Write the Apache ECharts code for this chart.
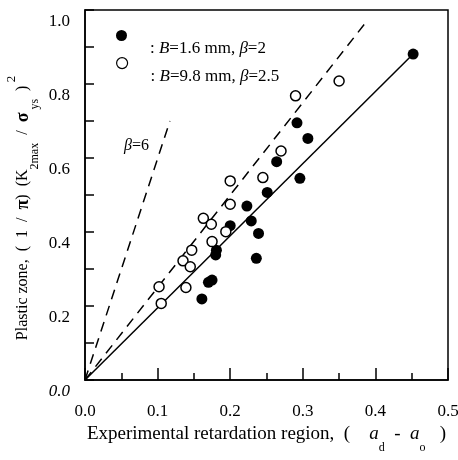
<!DOCTYPE html>
<html>
<head>
<meta charset="utf-8">
<script src="https://cdn.jsdelivr.net/npm/echarts@6/dist/echarts.min.js"></script>
<style>
html,body{margin:0;padding:0;background:#fff;}
#chart{width:458px;height:460px;}
</style>
</head>
<body>
<div id="chart"></div>
<script>
// ---- data ----
const filledName = 'B=1.6 mm, β=2';
const openName = 'B=9.8 mm, β=2.5';
const filledPoints = [
  [0.452, 0.881], [0.292, 0.695], [0.307, 0.653], [0.264, 0.590], [0.296, 0.545],
  [0.251, 0.507], [0.223, 0.470], [0.229, 0.430], [0.200, 0.417], [0.239, 0.396],
  [0.181, 0.351], [0.180, 0.338], [0.236, 0.329], [0.175, 0.270], [0.170, 0.264],
  [0.161, 0.219]
];
const openPoints = [
  [0.350, 0.808], [0.290, 0.768], [0.270, 0.619], [0.245, 0.547], [0.200, 0.538],
  [0.200, 0.475], [0.163, 0.437], [0.174, 0.421], [0.194, 0.401], [0.175, 0.374],
  [0.147, 0.351], [0.135, 0.322], [0.145, 0.306], [0.102, 0.252], [0.139, 0.250],
  [0.105, 0.207]
];
const fitSolid = [[0, 0], [0.452, 0.881]];      // fit line through filled data
const dashBeta25 = [[0, 0], [0.385, 0.962]];    // beta = 2.5 line
const dashBeta6 = [[0, 0], [0.117, 0.700]];     // beta = 6 line
const xTicks = { min: 0, max: 0.5, interval: 0.1 };
const yTicks = { min: 0, max: 1.0, interval: 0.2 };

const FONT = '"Liberation Serif", "DejaVu Serif", serif';

const chart = echarts.init(document.getElementById('chart'), null, { renderer: 'canvas' });

const legendRich = {
  t: { fontFamily: FONT, fontSize: 17, color: '#000' },
  i: { fontFamily: FONT, fontSize: 17, fontStyle: 'italic', color: '#000' }
};
function legendFmt(name) {
  if (name === filledName) return '{t|: }{i|B}{t|=1.6 mm, }{i|β}{t|=2}';
  return '{t|: }{i|B}{t|=9.8 mm, }{i|β}{t|=2.5}';
}
function makeLegend(name, top) {
  return {
    data: [name],
    left: 116,
    top: top,
    padding: 0,
    icon: 'circle',
    itemWidth: 11,
    itemHeight: 11,
    selectedMode: false,
    formatter: legendFmt,
    itemStyle: { borderWidth: 1.2 },
    textStyle: { padding: [26, 0, 0, 18], rich: legendRich, fontFamily: FONT, fontSize: 17 }
  };
}

const option = {
  backgroundColor: '#fff',
  animation: false,
  grid: {
    left: 85, right: 10, top: 10, bottom: 80,
    containLabel: false, outerBoundsMode: 'none',
    show: true, borderColor: '#000', borderWidth: 1.5, backgroundColor: 'transparent'
  },
  legend: [makeLegend(filledName, 30), makeLegend(openName, 57)],
  xAxis: {
    type: 'value',
    min: xTicks.min, max: xTicks.max, interval: xTicks.interval,
    axisLine: { show: true, lineStyle: { color: '#000', width: 1.5 } },
    axisTick: { show: true, inside: true, length: 12, lineStyle: { color: '#000', width: 1.5 } },
    minorTick: { show: true, splitNumber: 2, length: 7, lineStyle: { color: '#000', width: 1.5 } },
    splitLine: { show: false },
    axisLabel: {
      margin: 23, color: '#000', fontFamily: FONT, fontSize: 17,
      formatter: v => v.toFixed(1)
    },
    name: '{n|Experimental retardation region,  (    }{a|a}{s|d}{n|  -  }{a|a}{s|o}{n|   )}',
    nameLocation: 'middle',
    nameGap: 34,
    nameMoveOverlap: false,
    nameTextStyle: {
      rich: {
        n: { fontFamily: FONT, fontSize: 19, lineHeight: 40, color: '#000' },
        a: { fontFamily: FONT, fontSize: 19, lineHeight: 40, fontStyle: 'italic', color: '#000' },
        s: { fontFamily: FONT, fontSize: 12, lineHeight: 10, verticalAlign: 'bottom', color: '#000' }
      }
    }
  },
  yAxis: {
    type: 'value',
    min: yTicks.min, max: yTicks.max, interval: yTicks.interval,
    axisLine: { show: true, lineStyle: { color: '#000', width: 1.5 } },
    axisTick: { show: true, inside: true, length: 9, lineStyle: { color: '#000', width: 1.5 } },
    minorTick: { show: true, splitNumber: 2, length: 9, lineStyle: { color: '#000', width: 1.5 } },
    splitLine: { show: false },
    axisLabel: {
      margin: 15, color: '#000', fontFamily: FONT, fontSize: 17,
      padding: [24, 0, 0, 0],
      formatter: v => v === 0 ? '{i|0.0}' : v.toFixed(1),
      rich: { i: { fontFamily: FONT, fontSize: 17, fontStyle: 'italic', color: '#000' } }
    },
    name: '{n|Plastic zone,  (  1  /  }{g|π}{n|)  (K}{s|2max}{n|  /  }{g|σ}{s| ys}{n|  )}{p| 2}',
    nameLocation: 'middle',
    nameGap: 44,
    nameMoveOverlap: false,
    nameTextStyle: {
      padding: [0, 26, 0, 0],
      rich: {
        n: { fontFamily: FONT, fontSize: 16, lineHeight: 36, color: '#000' },
        g: { fontFamily: FONT, fontSize: 18, lineHeight: 36, fontWeight: 'bold', color: '#000' },
        s: { fontFamily: FONT, fontSize: 12, lineHeight: 12, verticalAlign: 'bottom', color: '#000' },
        p: { fontFamily: FONT, fontSize: 13, lineHeight: 28, verticalAlign: 'top', color: '#000' }
      }
    }
  },
  graphic: [
    {
      type: 'text',
      left: 124, top: 138,
      style: {
        text: '{i|β}{t|=6}',
        rich: {
          i: { fontFamily: FONT, fontSize: 16, fontStyle: 'italic', fill: '#000' },
          t: { fontFamily: FONT, fontSize: 16, fill: '#000' }
        }
      }
    }
  ],
  series: [
    {
      type: 'line', name: 'fit', data: fitSolid, showSymbol: false, symbol: 'none',
      lineStyle: { color: '#000', width: 1.5 }, silent: true, z: 1
    },
    {
      type: 'line', name: 'beta2.5', data: dashBeta25, showSymbol: false, symbol: 'none',
      lineStyle: { color: '#000', width: 1.5, type: [10, 7] }, silent: true, z: 1
    },
    {
      type: 'line', name: 'beta6', data: dashBeta6, showSymbol: false, symbol: 'none',
      lineStyle: { color: '#000', width: 1.5, type: [10, 7] }, silent: true, z: 1
    },
    {
      type: 'scatter', name: filledName, data: filledPoints,
      symbol: 'circle', symbolSize: 11,
      itemStyle: { color: '#000', opacity: 1 }, z: 3
    },
    {
      type: 'scatter', name: openName, data: openPoints,
      symbol: 'circle', symbolSize: 10,
      itemStyle: { color: '#fff', borderColor: '#000', borderWidth: 1.5, opacity: 1 }, z: 3
    }
  ]
};
chart.setOption(option);
</script>
</body>
</html>
